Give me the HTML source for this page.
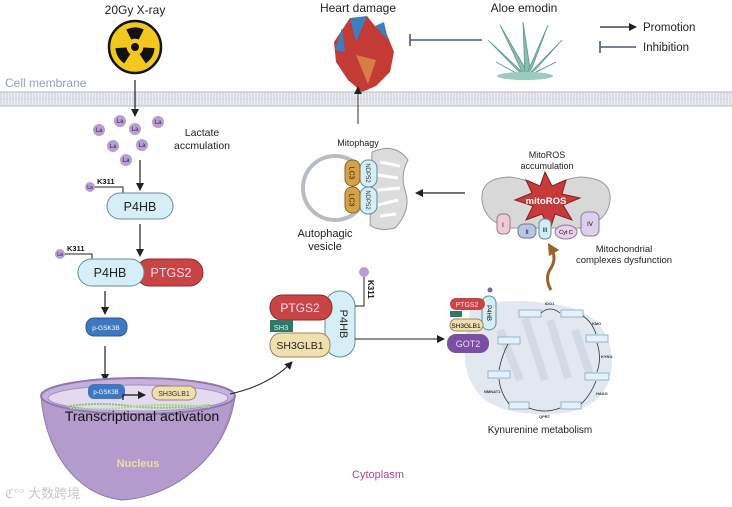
<!DOCTYPE html>
<html><head><meta charset="utf-8"><style>
html,body{margin:0;padding:0;background:#fff;}
svg{display:block;font-family:"Liberation Sans","Noto Sans CJK SC",sans-serif;}
</style></head><body>
<svg width="732" height="507" viewBox="0 0 732 507" xmlns="http://www.w3.org/2000/svg">
<defs>
<marker id="ah" markerWidth="8" markerHeight="8" refX="7" refY="4" orient="auto" markerUnits="userSpaceOnUse"><path d="M0,0 L8,4 L0,8 Z" fill="#222"/></marker>
<marker id="ahb" markerWidth="12" markerHeight="12" refX="6" refY="6" orient="auto" markerUnits="userSpaceOnUse"><path d="M0,0 L12,6 L0,12 Z" fill="#a0602a"/></marker>
<pattern id="mem" width="3" height="14" patternUnits="userSpaceOnUse"><rect width="3" height="14" fill="#eef0f4"/><line x1="1" y1="0" x2="1" y2="14" stroke="#c8ccd6" stroke-width="1"/></pattern>
</defs>

<rect x="0" y="92" width="732" height="14" fill="url(#mem)"/>
<line x1="0" y1="92" x2="732" y2="92" stroke="#b8bcc8"/>
<line x1="0" y1="99" x2="732" y2="99" stroke="#c8ccd6" stroke-dasharray="2,1"/>
<line x1="0" y1="106" x2="732" y2="106" stroke="#b8bcc8"/>
<text x="5" y="87" font-size="12" fill="#9a9cc4">Cell membrane</text>

<text x="135" y="14" font-size="12" text-anchor="middle" fill="#222">20Gy X-ray</text>
<circle cx="135" cy="47" r="26" fill="#f2c81f" stroke="#111" stroke-width="2.5"/>
<g fill="#111" transform="translate(135,47)">
<circle r="4"/>
<path d="M-7,-14 A16,16 0 0,1 7,-14 L3,-6 A7,7 0 0,0 -3,-6 Z" transform="scale(1.25)"/>
<path d="M-7,-14 A16,16 0 0,1 7,-14 L3,-6 A7,7 0 0,0 -3,-6 Z" transform="rotate(120) scale(1.25)"/>
<path d="M-7,-14 A16,16 0 0,1 7,-14 L3,-6 A7,7 0 0,0 -3,-6 Z" transform="rotate(240) scale(1.25)"/>
</g>
<line x1="135" y1="80" x2="135" y2="116" stroke="#222" stroke-width="1.2" marker-end="url(#ah)"/>

<g font-size="6" font-weight="bold" text-anchor="middle" fill="#5a3f7a">
<circle cx="99" cy="130" r="6" fill="#b79fd2"/><text x="99" y="132">La</text>
<circle cx="120" cy="121" r="6" fill="#b79fd2"/><text x="120" y="123">La</text>
<circle cx="135" cy="129" r="6" fill="#b79fd2"/><text x="135" y="131">La</text>
<circle cx="158" cy="122" r="6" fill="#b79fd2"/><text x="158" y="124">La</text>
<circle cx="113" cy="146" r="6" fill="#b79fd2"/><text x="113" y="148">La</text>
<circle cx="142" cy="145" r="6" fill="#b79fd2"/><text x="142" y="147">La</text>
<circle cx="126" cy="160" r="6" fill="#b79fd2"/><text x="126" y="162">La</text>
</g>
<text x="202" y="136" font-size="10.5" text-anchor="middle" fill="#222">Lactate</text>
<text x="202" y="149" font-size="10.5" text-anchor="middle" fill="#222">accmulation</text>
<line x1="140" y1="160" x2="140" y2="190" stroke="#222" stroke-width="1.2" marker-end="url(#ah)"/>

<circle cx="90" cy="187" r="5" fill="#b79fd2"/><text x="90" y="189" font-size="5" text-anchor="middle" font-weight="bold" fill="#5a3f7a">La</text>
<polyline points="95,187 123,187 123,194" fill="none" stroke="#222"/>
<text x="97" y="184" font-size="7.5" font-weight="bold" fill="#111">K311</text>
<rect x="107" y="193" width="66" height="26" rx="13" fill="#d6eff6" stroke="#5f8e9c"/>
<text x="140" y="211" font-size="12.5" text-anchor="middle" fill="#222">P4HB</text>
<line x1="140" y1="224" x2="140" y2="256" stroke="#222" stroke-width="1.2" marker-end="url(#ah)"/>

<circle cx="60" cy="254" r="5" fill="#b79fd2"/><text x="60" y="256" font-size="5" text-anchor="middle" font-weight="bold" fill="#5a3f7a">La</text>
<polyline points="65,254 92,254 92,260" fill="none" stroke="#222"/>
<text x="67" y="251" font-size="7.5" font-weight="bold" fill="#111">K311</text>
<rect x="136" y="259" width="67" height="27" rx="13.5" fill="#c94444" stroke="#8a2b2b"/>
<text x="171" y="277" font-size="12.5" text-anchor="middle" fill="#fde">PTGS2</text>
<rect x="78" y="259" width="66" height="27" rx="13.5" fill="#d6eff6" stroke="#5f8e9c"/>
<text x="110" y="277" font-size="12.5" text-anchor="middle" fill="#222">P4HB</text>
<line x1="105" y1="291" x2="105" y2="314" stroke="#222" stroke-width="1.2" marker-end="url(#ah)"/>
<rect x="86" y="318" width="41" height="18" rx="8" fill="#3e78c2" stroke="#2a5a96"/>
<text x="106" y="330" font-size="6.5" text-anchor="middle" fill="#fff">p-GSK3B</text>
<line x1="105" y1="346" x2="105" y2="381" stroke="#222" stroke-width="1.2" marker-end="url(#ah)"/>

<!-- Nucleus -->
<path d="M41,396 C45,450 75,495 122,500 C175,497 228,455 235,396 Z" fill="#b39ccd" stroke="#8f78ad"/>
<path d="M150,495 C200,480 225,440 232,400 L235,396 C228,455 175,497 122,500 Z" fill="#9d84bb" opacity="0.6"/>
<ellipse cx="138" cy="396" rx="97" ry="18" fill="#c4b0db" stroke="#8f78ad" stroke-width="2"/>
<ellipse cx="138" cy="398" rx="90" ry="13" fill="#e4daf0" stroke="#a18cc0"/>
<path d="M70,406 Q100,402 130,406 T210,405" fill="none" stroke="#8cc56c" stroke-width="2" stroke-dasharray="2,1"/>
<path d="M70,408 Q100,411 130,407 T210,407" fill="none" stroke="#a9d78a" stroke-width="2" stroke-dasharray="2,1"/>
<rect x="88" y="384" width="37" height="15" rx="6" fill="#3e78c2"/>
<text x="106" y="394" font-size="6" text-anchor="middle" fill="#fff">p-GSK3B</text>
<polyline points="123,400 123,395 145,395" fill="none" stroke="#111" stroke-width="1.2" marker-end="url(#ah)"/>
<rect x="152" y="386" width="44" height="14" rx="7" fill="#f2dfae" stroke="#9a8660"/>
<text x="174" y="396" font-size="7" text-anchor="middle" fill="#333">SH3GLB1</text>
<text x="142" y="421" font-size="14" text-anchor="middle" fill="#111">Transcriptional activation</text>
<text x="138" y="467" font-size="11" text-anchor="middle" fill="#ecdca0" font-weight="bold">Nucleus</text>
<path d="M230,394 Q270,385 292,362" fill="none" stroke="#222" stroke-width="1" marker-end="url(#ah)"/>
<text x="5" y="498" font-size="13" fill="#c8c8c8">ℭ°° 大数跨境</text>

<rect x="325" y="291" width="30" height="66" rx="15" fill="#d6eff6" stroke="#5f8e9c"/>
<text x="340" y="324" font-size="11" text-anchor="middle" fill="#222" transform="rotate(90 340 324)">P4HB</text>
<rect x="270" y="295" width="62" height="25" rx="12" fill="#c94444" stroke="#8a2b2b"/>
<text x="300" y="312" font-size="12" text-anchor="middle" fill="#fde">PTGS2</text>
<rect x="270" y="320" width="23" height="12" fill="#2e7a68"/>
<text x="281" y="330" font-size="7.5" text-anchor="middle" fill="#cfe">SH3</text>
<rect x="270" y="333" width="60" height="24" rx="11" fill="#f2dfae" stroke="#9a8660"/>
<text x="300" y="349" font-size="10.5" text-anchor="middle" fill="#222">SH3GLB1</text>
<circle cx="364" cy="272" r="5" fill="#b79fd2"/>
<polyline points="364,277 364,306 355,306" fill="none" stroke="#222"/>
<text x="368" y="280" font-size="8" font-weight="bold" fill="#111" transform="rotate(90 368 280)">K311</text>
<line x1="355" y1="339" x2="444" y2="339" stroke="#222" stroke-width="1" marker-end="url(#ah)"/>

<!-- Heart -->
<text x="358" y="12" font-size="12" text-anchor="middle" fill="#222">Heart damage</text>
<path d="M342,30 L350,18 L358,25 L367,16 L375,26 L386,32 L394,52 L390,72 L376,86 L362,92 L348,80 L336,62 L334,42 Z" fill="#c43a34"/>
<path d="M350,18 L356,42 L367,16 Z M342,28 L335,50 L345,52 Z M375,26 L384,22 L388,40 Z" fill="#3b7fc0"/>
<path d="M356,55 L376,60 L368,84 Z" fill="#e09a50" opacity="0.7"/>
<line x1="358" y1="124" x2="358" y2="87" stroke="#333" stroke-width="1" marker-end="url(#ah)"/>
<line x1="410" y1="40" x2="482" y2="40" stroke="#4a5878" stroke-width="1.4"/>
<line x1="410" y1="34" x2="410" y2="46" stroke="#4a5878" stroke-width="1.6"/>

<text x="524" y="12" font-size="12" text-anchor="middle" fill="#222">Aloe emodin</text>
<g fill="#85bfb0" stroke="#5c9a8c" stroke-width="0.8">
<path d="M525,78 L488,40 L520,70 Z"/><path d="M525,78 L500,25 L525,68 Z"/><path d="M525,78 L523,22 L530,68 Z"/>
<path d="M525,78 L548,25 L532,68 Z"/><path d="M525,78 L562,40 L535,70 Z"/><path d="M525,78 L496,62 L518,74 Z"/><path d="M525,78 L556,62 L532,74 Z"/>
</g>
<ellipse cx="525" cy="76" rx="28" ry="4" fill="#9cccbf"/>

<line x1="600" y1="27" x2="636" y2="27" stroke="#222" stroke-width="1.2" marker-end="url(#ah)"/>
<text x="643" y="31" font-size="11.5" fill="#222">Promotion</text>
<line x1="600" y1="47" x2="636" y2="47" stroke="#4a5878" stroke-width="1.4"/>
<line x1="600" y1="41" x2="600" y2="53" stroke="#4a5878" stroke-width="1.6"/>
<text x="643" y="51" font-size="11.5" fill="#222">Inhibition</text>

<text x="358" y="146" font-size="9" text-anchor="middle" fill="#222">Mitophagy</text>
<circle cx="335" cy="188" r="32" fill="#fff" stroke="#b8bcc8" stroke-width="4"/>
<path d="M372,152 Q395,142 408,160 Q400,175 405,190 Q412,210 395,228 Q378,232 370,225 Z" fill="#dcdcdc" stroke="#999"/>
<path d="M380,162 L400,166 M378,175 L398,178 M378,190 L400,188 M378,205 L398,200 M380,216 L396,214" stroke="#fff" stroke-width="3"/>
<rect x="360" y="160" width="17" height="27" rx="8" fill="#d6eff6" stroke="#5f8e9c"/>
<rect x="360" y="187" width="17" height="27" rx="8" fill="#d6eff6" stroke="#5f8e9c"/>
<rect x="345" y="160" width="15" height="26" rx="7" fill="#d7a245" stroke="#8a6420"/>
<rect x="345" y="187" width="15" height="26" rx="7" fill="#d7a245" stroke="#8a6420"/>
<text x="352" y="173" font-size="7" text-anchor="middle" transform="rotate(90 352 173)" dy="2.5" fill="#222">LC3</text>
<text x="352" y="200" font-size="7" text-anchor="middle" transform="rotate(90 352 200)" dy="2.5" fill="#222">LC3</text>
<text x="368" y="173" font-size="6" text-anchor="middle" transform="rotate(90 368 173)" dy="2" fill="#333">NDP52</text>
<text x="368" y="200" font-size="6" text-anchor="middle" transform="rotate(90 368 200)" dy="2" fill="#333">NDP52</text>
<text x="325" y="237" font-size="11" text-anchor="middle" fill="#222">Autophagic</text>
<text x="325" y="250" font-size="11" text-anchor="middle" fill="#222">vesicle</text>
<line x1="465" y1="193" x2="416" y2="193" stroke="#222" stroke-width="1.2" marker-end="url(#ah)"/>

<text x="547" y="158" font-size="9" text-anchor="middle" fill="#222">MitoROS</text>
<text x="547" y="169" font-size="9" text-anchor="middle" fill="#222">accumulation</text>
<path d="M482,200 Q480,178 510,177 Q535,180 545,195 Q555,180 580,177 Q612,178 610,200 Q608,222 580,228 L510,228 Q484,222 482,200 Z" fill="#d8d8d8" stroke="#999"/>
<path d="M545,172 L552,186 L566,180 L562,194 L580,198 L563,205 L572,220 L555,214 L550,230 L542,214 L526,220 L533,206 L515,200 L532,193 L526,180 L540,186 Z" fill="#c8393a" stroke="#8a1f20"/>
<text x="546" y="204" font-size="9.5" font-weight="bold" text-anchor="middle" fill="#fff">mitoROS</text>
<rect x="497" y="214" width="13" height="20" rx="5" fill="#f0cad8" stroke="#9a7a8a"/><text x="503" y="227" font-size="6" text-anchor="middle">I</text>
<rect x="518" y="224" width="18" height="14" rx="6" fill="#b8c6e6" stroke="#6a7a9a"/><text x="527" y="234" font-size="6" text-anchor="middle">II</text>
<rect x="539" y="219" width="12" height="20" rx="5" fill="#cfeef6" stroke="#6a8a9a"/><text x="545" y="232" font-size="6" text-anchor="middle">III</text>
<ellipse cx="566" cy="232" rx="11" ry="7" fill="#e8d0ec" stroke="#8a7a9a"/><text x="566" y="234" font-size="5.5" text-anchor="middle">Cyt C</text>
<rect x="581" y="212" width="18" height="24" rx="6" fill="#dcd0ec" stroke="#8a7a9a"/><text x="590" y="226" font-size="6" text-anchor="middle">IV</text>
<text x="624" y="252" font-size="9.5" text-anchor="middle" fill="#222">Mitochondrial</text>
<text x="624" y="263" font-size="9.5" text-anchor="middle" fill="#222">complexes dysfunction</text>
<path d="M551,290 Q544,278 551,268 Q557,258 551,248" fill="none" stroke="#a0602a" stroke-width="3" marker-end="url(#ahb)"/>

<path d="M470,310 Q500,295 560,305 Q610,315 612,360 Q612,405 565,413 Q510,418 485,400 Q462,380 465,345 Z" fill="#e2e8f0"/>
<path d="M500,330 L520,380 M525,318 L545,380 M550,320 L568,378 M575,330 L590,375" stroke="#d2dae6" stroke-width="8"/>
<g fill="#e4f1fa" stroke="#7fa8c4" stroke-width="0.8">
<rect x="519" y="310" width="22" height="7"/><rect x="561" y="310" width="22" height="7"/>
<rect x="586" y="335" width="22" height="7"/><rect x="585" y="373" width="24" height="7"/>
<rect x="561" y="402" width="20" height="7"/><rect x="509" y="402" width="20" height="7"/>
<rect x="488" y="371" width="22" height="7"/><rect x="498" y="337" width="22" height="7"/>
</g>
<g fill="none" stroke="#333" stroke-width="0.8">
<path d="M541,313 Q550,305 560,313"/><path d="M583,316 Q592,322 596,334"/><path d="M597,343 Q602,358 597,372"/>
<path d="M596,381 Q590,396 581,404"/><path d="M560,408 Q545,414 529,408"/><path d="M509,404 Q500,392 499,379"/><path d="M499,370 Q502,355 508,344"/>
</g>
<g font-size="4" font-weight="bold" fill="#333">
<text x="545" y="305">IDO1</text><text x="592" y="325">KMO</text><text x="601" y="358">KYNU</text>
<text x="596" y="395">HAAO</text><text x="539" y="418">QPRT</text><text x="484" y="393">NMNAT1</text>
</g>
<text x="540" y="433" font-size="10" text-anchor="middle" fill="#222">Kynurenine metabolism</text>
<rect x="482" y="296" width="14" height="34" rx="7" fill="#d6eff6" stroke="#5f8e9c"/>
<text x="489" y="313" font-size="6" text-anchor="middle" transform="rotate(90 489 313)" dy="2">P4HB</text>
<circle cx="490" cy="290" r="2.5" fill="#7a6a9a"/>
<rect x="450" y="298" width="35" height="12" rx="6" fill="#c94444"/>
<text x="467" y="307" font-size="7" text-anchor="middle" fill="#fde">PTGS2</text>
<rect x="450" y="311" width="12" height="6" fill="#2e7a68"/>
<rect x="450" y="319" width="33" height="12" rx="6" fill="#f2dfae" stroke="#9a8660"/>
<text x="466" y="328" font-size="6.5" text-anchor="middle">SH3GLB1</text>
<rect x="447" y="334" width="42" height="19" rx="9" fill="#7a4ea2"/>
<text x="468" y="347" font-size="9" text-anchor="middle" fill="#e8dcf5">GOT2</text>

<text x="378" y="478" font-size="11" text-anchor="middle" fill="#b0449a">Cytoplasm</text>
</svg>
</body></html>
